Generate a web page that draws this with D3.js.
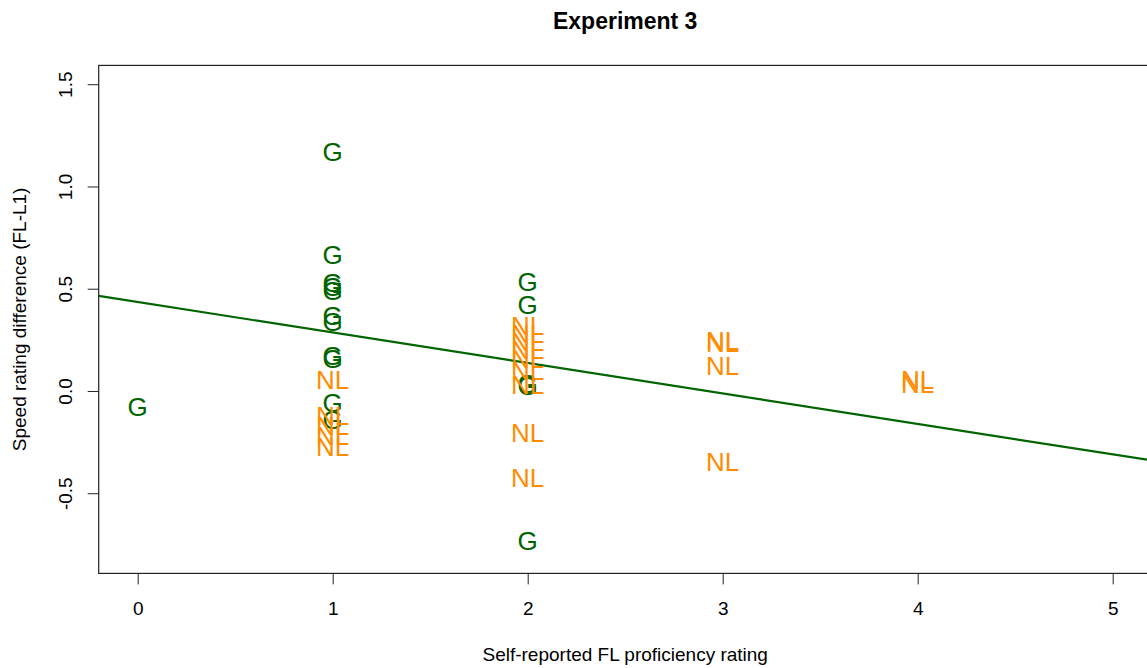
<!DOCTYPE html>
<html>
<head>
<meta charset="utf-8">
<script src="https://cdn.jsdelivr.net/npm/d3@7"></script>
<style>
  html, body { margin: 0; padding: 0; background: #fff; }
  svg { display: block; font-family: "Liberation Sans", Arial, sans-serif; }
</style>
</head>
<body>
<svg id="chart" width="1147" height="668"></svg>
<script>
// ---- data ----
const title = "Experiment 3";
const xLabel = "Self-reported FL proficiency rating";
const yLabel = "Speed rating difference (FL-L1)";
const xTicks = [0, 1, 2, 3, 4, 5];
const yTicks = [-0.5, 0.0, 0.5, 1.0, 1.5];

// group "G"
const gX = [0, 1, 1, 1, 1, 1, 1, 1, 1, 1, 1, 1, 2, 2, 2, 2, 2];
const gY = [-0.075, 1.17, 0.665, 0.53, 0.51, 0.49, 0.37, 0.34, 0.175, 0.16, -0.055, -0.14, 0.535, 0.42, 0.035, 0.025, -0.73];
// group "NL"
const nlX = [1, 1, 1, 1, 1, 2, 2, 2, 2, 2, 2, 2, 2, 2, 3, 3, 3, 3, 4, 4];
const nlY = [0.055, -0.12, -0.17, -0.22, -0.27, 0.32, 0.28, 0.24, 0.20, 0.16, 0.10, 0.03, -0.205, -0.425, 0.245, 0.235, 0.125, -0.345, 0.055, 0.035];

// regression line (intercept, slope)
const fitIntercept = [0.435];
const fitSlope = [-0.149];

// ---- layout ----
const svg = d3.select("#chart");
const pLeft = 98.7, pRight = 1151.7, pTop = 65.4, pBottom = 573.4;
const x = d3.scaleLinear().domain([-0.2, 5.2]).range([pLeft, pRight]);
const y = d3.scaleLinear().domain([-0.892, 1.592]).range([pBottom, pTop]);

const font = "Liberation Sans, Arial, sans-serif";

svg.append("defs").append("clipPath").attr("id", "plotclip")
  .append("rect").attr("x", pLeft).attr("y", pTop)
  .attr("width", pRight - pLeft).attr("height", pBottom - pTop);

// title
svg.append("text").attr("x", (pLeft + pRight) / 2).attr("y", 29)
  .attr("text-anchor", "middle").attr("font-size", 23).attr("font-weight", "bold")
  .attr("fill", "#000").text(title);

// x axis
const xAxis = svg.append("g").attr("transform", `translate(0,${pBottom})`)
  .call(d3.axisBottom(x).tickValues(xTicks).tickSize(11).tickFormat(d3.format("d")));
xAxis.select(".domain").remove();
xAxis.selectAll(".tick line").attr("stroke", "#222");
xAxis.selectAll(".tick text").attr("y", 41.6).attr("dy", null)
  .attr("font-size", 19).attr("font-family", font).attr("fill", "#000");

// y axis
const yAxis = svg.append("g").attr("transform", `translate(${pLeft},0)`)
  .call(d3.axisLeft(y).tickValues(yTicks).tickSize(11)
    .tickFormat(d => d3.format(".1f")(d).replace("\u2212", "-")));
yAxis.select(".domain").remove();
yAxis.selectAll(".tick line").attr("stroke", "#222");
yAxis.selectAll(".tick text")
  .attr("x", null).attr("dy", null).attr("text-anchor", "middle")
  .attr("transform", "translate(-26.5,0) rotate(-90)")
  .attr("font-size", 19).attr("font-family", font).attr("fill", "#000");

// axis labels
svg.append("text").attr("x", (pLeft + pRight) / 2).attr("y", 661)
  .attr("text-anchor", "middle").attr("font-size", 19).attr("fill", "#000").text(xLabel);
svg.append("text")
  .attr("transform", `translate(26,${(pTop + pBottom) / 2}) rotate(-90)`)
  .attr("text-anchor", "middle").attr("font-size", 19).attr("fill", "#000").text(yLabel);

// plot box
svg.append("rect").attr("x", pLeft).attr("y", pTop)
  .attr("width", pRight - pLeft).attr("height", pBottom - pTop)
  .attr("fill", "none").attr("stroke", "#222").attr("stroke-width", 1.2);

const plot = svg.append("g").attr("clip-path", "url(#plotclip)");

// regression line
const xd = x.domain();
plot.append("line")
  .attr("x1", x(xd[0])).attr("y1", y(fitIntercept[0] + fitSlope[0] * xd[0]))
  .attr("x2", x(xd[1])).attr("y2", y(fitIntercept[0] + fitSlope[0] * xd[1]))
  .attr("stroke", "#006400").attr("stroke-width", 2.2);

// points as text labels
plot.selectAll("text.g").data(gX.map((d, i) => [d, gY[i]])).enter()
  .append("text").attr("class", "g")
  .attr("x", d => x(d[0])).attr("y", d => y(d[1])).attr("dy", "0.36em")
  .attr("text-anchor", "middle").attr("font-size", 26).attr("fill", "#006400")
  .text("G");
plot.selectAll("text.nl").data(nlX.map((d, i) => [d, nlY[i]])).enter()
  .append("text").attr("class", "nl")
  .attr("x", d => x(d[0])).attr("y", d => y(d[1])).attr("dy", "0.36em")
  .attr("text-anchor", "middle").attr("font-size", 26).attr("fill", "#FF8C00")
  .text("NL");
</script>
</body>
</html>
